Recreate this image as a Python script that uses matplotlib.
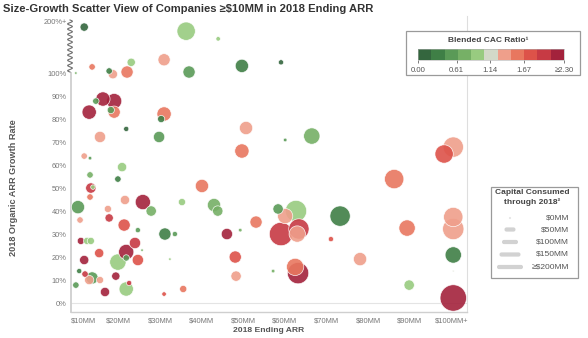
import numpy as np
import matplotlib
matplotlib.use("Agg")
import matplotlib.pyplot as plt
import matplotlib.transforms as mtransforms
from matplotlib.colors import ListedColormap, BoundaryNorm
from matplotlib.patches import Rectangle, FancyBboxPatch

plt.rcParams['font.family'] = ['Liberation Sans', 'DejaVu Sans']

# one entry per company
# 2018 ending ARR ($MM), 100 = "$100MM+"
arr = [11.8, 36.3, 44.0, 13.7, 17.8, 18.7, 22.1, 23.1, 9.8, 31.0, 37.0, 49.7, 59.1,
       13.0, 16.3, 19.0, 14.6, 19.0, 18.2, 31.0, 30.3, 21.9, 15.6, 29.8, 50.7, 49.7,
       11.8, 13.2, 20.9, 60.1, 66.5, 98.3, 100.5, 86.3,
       13.2, 19.9, 13.4, 13.9, 13.2, 10.3, 17.5, 21.6, 25.9, 27.9, 35.3, 40.1, 43.0,
       43.9, 17.8, 10.8, 21.4, 24.7, 31.2, 33.6, 46.1, 49.3, 53.1, 58.4, 62.7, 60.1,
       59.1, 63.4, 63.0, 73.3, 71.1, 89.4, 100.5, 100.5,
       11.0, 12.5, 13.4, 24.0, 21.9, 21.9, 15.4, 25.7, 24.7, 19.9, 11.8, 32.4, 48.1,
       48.3, 78.1, 100.5, 10.6, 12.0, 13.0, 13.7, 15.6, 19.4, 57.2, 62.5, 63.2, 100.5,
       9.8, 16.8, 21.9, 22.6, 31.0, 35.6, 89.9, 100.5]

# 2018 organic ARR growth (%)
growth = [190, 182, 167, 112, 104, 99.5, 102, 121, 100, 126, 102, 114, 121,
          83.0, 88.7, 87.8, 87.8, 83.0, 83.9, 82.2, 80.0, 75.7, 72.2, 72.2, 76.1, 66.1,
          63.9, 63.0, 59.1, 70.9, 72.6, 64.8, 67.8, 53.9,
          55.7, 53.9, 50.0, 50.4, 46.1, 41.7, 40.9, 44.8, 43.9, 40.0, 43.9, 50.9, 42.6,
          40.0, 37.0, 36.1, 33.9, 31.7, 30.0, 30.0, 30.0, 31.7, 35.2, 40.9, 40.0, 37.8,
          30.0, 32.2, 30.0, 37.8, 27.8, 32.6, 37.4, 32.2,
          27.0, 27.0, 27.0, 26.1, 19.6, 22.2, 21.7, 23.0, 18.7, 17.8, 18.7, 19.1, 20.0,
          11.7, 19.1, 20.9, 13.9, 12.6, 10.0, 10.9, 10.0, 11.7, 13.9, 15.7, 13.0, 13.9,
          7.8, 4.8, 6.1, 8.7, 3.9, 6.1, 7.8, 2.2]

# capital consumed through 2018 ($MM)
capital = [19, 96, 5, 11, 11, 24, 42, 19, 1, 42, 42, 50, 7,
           58, 58, 66, 11, 42, 14, 58, 14, 7, 36, 36, 50, 58,
           11, 3, 24, 3, 76, 96, 118, 107,
           11, 11, 30, 5, 11, 50, 14, 24, 66, 30, 14, 50, 50,
           30, 19, 11, 42, 7, 42, 7, 36, 3, 42, 30, 130, 66,
           156, 118, 76, 118, 7, 76, 107, 130,
           14, 14, 14, 36, 11, 66, 24, 1, 36, 76, 24, 1, 42,
           30, 50, 76, 7, 11, 24, 42, 14, 19, 3, 85, 130, 0,
           11, 24, 58, 7, 5, 14, 30, 200]

# blended CAC ratio
cac = [0.10, 0.94, 0.94, 1.56, 0.32, 1.35, 1.56, 0.94, 0.72, 1.35, 0.52, 0.32, 0.10,
       2.60, 2.60, 2.60, 0.52, 1.56, 0.52, 1.56, 0.32, 0.10, 1.35, 0.52, 1.35, 1.56,
       1.35, 0.52, 0.94, 0.52, 0.72, 1.77, 1.35, 1.56,
       0.72, 0.32, 1.98, 0.94, 1.56, 0.52, 1.35, 1.35, 2.60, 0.72, 0.94, 1.56, 0.72,
       0.72, 1.98, 1.35, 1.77, 0.52, 0.32, 0.52, 2.60, 0.72, 1.56, 0.52, 0.94, 1.35,
       1.98, 1.98, 1.35, 0.32, 1.77, 1.56, 1.35, 1.35,
       2.60, 0.94, 0.94, 1.98, 0.52, 2.60, 1.77, 0.72, 1.77, 0.94, 2.60, 0.94, 1.77,
       1.35, 1.35, 0.32, 0.32, 1.98, 1.35, 0.52, 1.35, 2.60, 0.72, 1.56, 2.60, 1.14,
       0.52, 2.60, 0.94, 1.98, 1.77, 1.56, 0.94, 2.60]

cac_colors = ['#34663e', '#3f7f46', '#5a9a57', '#76b066', '#98cb80', '#d3d9c8',
              '#ef9f8b', '#e8775f', '#dd5249', '#c73a44', '#a3223c']
cac_ticks = [0.00, 0.61, 1.14, 1.67, 2.30]
cac_tick_labels = ['0.00', '0.61', '1.14', '1.67', '≥2.30']

size_values = [0, 50, 100, 150, 200]
size_labels = ['$0MM', '$50MM', '$100MM', '$150MM', '≥$200MM']

x_ticks = [10, 20, 30, 40, 50, 60, 70, 80, 90, 100]
x_tick_labels = ['$10MM', '$20MM', '$30MM', '$40MM', '$50MM', '$60MM',
                 '$70MM', '$80MM', '$90MM', '$100MM+']
y_ticks = [0, 10, 20, 30, 40, 50, 60, 70, 80, 90, 100, 200]
y_tick_labels = ['0%', '10%', '20%', '30%', '40%', '50%', '60%', '70%',
                 '80%', '90%', '100%', '200%+']

title = 'Size-Growth Scatter View of Companies ≥$10MM in 2018 Ending ARR'


def axis_pos(g):
    # growth above 100% is squeezed into a short band capped at 200%+
    g = np.asarray(g, dtype=float)
    return np.where(g <= 100, g, 100 + (np.minimum(g, 200) - 100) * 0.222)


def bubble_area(cap):
    return 1.5 + 1.8 * np.asarray(cap, dtype=float)


W, H = 588, 338
fig = plt.figure(figsize=(W / 100, H / 100), dpi=100)
ax = fig.add_axes([71 / W, 1 - 312 / H, 396 / W, 296 / H])

bounds = np.linspace(0, 2.30, 12)
cmap = ListedColormap(cac_colors)
norm = BoundaryNorm(bounds, cmap.N)

x = np.array(arr)
y = axis_pos(growth)
s = bubble_area(capital)
c = np.clip(cac, 0, 2.29)
order = np.argsort(-s)  # big bubbles underneath
ax.scatter(x[order], y[order], s=s[order], c=c[order], cmap=cmap, norm=norm,
           alpha=0.9, edgecolors='white', linewidths=0.5, zorder=3)

ax.set_xlim(8.63, 103.8)
ax.set_ylim(-3.9, 124.8)
ax.axhline(0, color='#e4e4e4', lw=0.8, zorder=1)

ax.set_xticks(x_ticks)
ax.set_xticklabels(x_tick_labels)
ax.set_yticks(axis_pos(y_ticks))
ax.set_yticklabels(y_tick_labels)
ax.tick_params(length=0, labelsize=5.4, labelcolor='#777777')
ax.tick_params(axis='y', pad=3)
ax.tick_params(axis='x', pad=4)
# first x label nudged right so it clears the axis
lbl0 = ax.xaxis.get_major_ticks()[0].label1
lbl0.set_transform(lbl0.get_transform() +
                   mtransforms.ScaledTranslation(7 / 100, 0, fig.dpi_scale_trans))

ax.spines['top'].set_visible(False)
ax.spines['left'].set_color('#cfcfcf')
ax.spines['left'].set_linewidth(1.3)
ax.spines['left'].set_bounds(-3.9, 100)
ax.spines['bottom'].set_color('#cfcfcf')
ax.spines['bottom'].set_linewidth(1.0)
ax.spines['right'].set_color('#dedede')
ax.spines['right'].set_linewidth(0.8)

# overlay in pixel coordinates for titles, break mark and legends
ov = fig.add_axes([0, 0, 1, 1], zorder=5)
ov.set_xlim(0, W)
ov.set_ylim(H, 0)
ov.axis('off')

ov.text(3, 9, title, fontsize=8.1, fontweight='bold', color='#333333',
        ha='left', va='center')
ov.text(269, 331, '2018 Ending ARR', fontsize=6.1, fontweight='bold',
        color='#555555', ha='center', va='center')
ov.text(14, 188, '2018 Organic ARR Growth Rate', fontsize=6.6, fontweight='bold',
        color='#555555', ha='center', va='center', rotation=90)

# axis break squiggle
wy = np.linspace(20, 72, 300)
wx = 70 + 2.4 * np.sin((wy - 20) / 52 * 10 * 2 * np.pi)
ov.plot(wx, wy, color='#6f6f6f', lw=0.8)

# colour legend
ov.add_patch(Rectangle((406, 31), 174, 44, facecolor='white',
                       edgecolor='#9a9a9a', lw=0.9))
ov.text(488, 40, 'Blended CAC Ratio¹', fontsize=6, fontweight='bold',
        color='#444444', ha='center', va='center')
cax = fig.add_axes([418 / W, 1 - 60 / H, 146 / W, 11 / H], zorder=6)
mids = (bounds[:-1] + bounds[1:]) / 2
cax.pcolormesh(bounds, [0, 1], mids.reshape(1, -1), cmap=cmap, norm=norm)
cax.set_xlim(0, 2.30)
cax.set_ylim(0, 1)
cax.set_yticks([])
cax.set_xticks(cac_ticks)
cax.set_xticklabels(cac_tick_labels)
cax.tick_params(axis='x', length=2, width=0.6, color='#666666', pad=3,
                labelsize=5.6, labelcolor='#555555')
for sp in cax.spines.values():
    sp.set_color('#b0b0b0')
    sp.set_linewidth(0.4)

# size legend
ov.add_patch(Rectangle((491, 187), 87, 91, facecolor='white',
                       edgecolor='#9a9a9a', lw=0.9))
ov.text(532, 193, 'Capital Consumed', fontsize=6, fontweight='bold',
        color='#444444', ha='center', va='center')
ov.text(532, 202, 'through 2018²', fontsize=6, fontweight='bold',
        color='#444444', ha='center', va='center')
row_y = [218, 229.5, 242, 254.5, 267]
for v, lab, ry in zip(size_values, size_labels, row_y):
    w = 6 + 0.1 * v if v > 0 else 1.2
    h = 4.2 if v > 0 else 1.2
    ov.add_patch(FancyBboxPatch((510 - w / 2, ry - h / 2), w, h,
                                boxstyle='round,pad=0,rounding_size=2',
                                facecolor='#d2d2d2', edgecolor='none'))
    ov.text(569, ry, lab, fontsize=6, color='#555555', ha='right', va='center')

fig.savefig('out.png', dpi=100)
